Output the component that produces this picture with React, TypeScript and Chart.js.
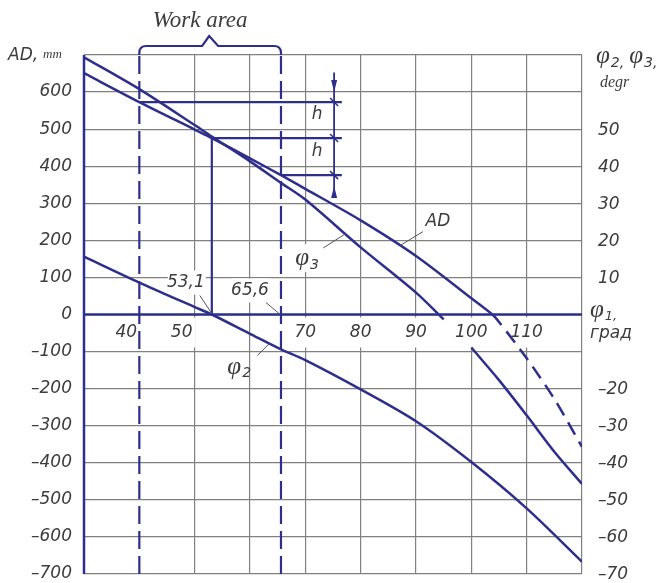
import React, { useEffect, useRef } from "react";
import { Chart, registerables } from "chart.js";

Chart.register(...registerables);

// ---------- data ----------
const phi1Range = [30, 120];
const adRange = [-700, 700];
const degRange = [-70, 70];

const adPhi1 = [30, 40, 50, 53.1, 60, 65.6, 70, 80, 90, 100, 103.8, 105, 110, 115, 120];
const adValues = [651, 573, 499, 476, 421, 376, 339, 254, 158, 44, 0, -20, -118, -228, -357];
const adDashedFrom = 103.8;

const phi3Phi1 = [30, 40, 50, 53.1, 60, 65.6, 70, 80, 90, 95, 97.5, 100, 105, 110, 115, 120];
const phi3Values = [69.4, 60.8, 51.1, 48.0, 41.3, 35.5, 31.0, 18.1, 5.9, -1.3, null, -8.9, -17.7, -27.2, -37.0, -45.7];

const phi2Phi1 = [30, 40, 50, 53.1, 60, 65.6, 70, 80, 90, 100, 110, 120];
const phi2Values = [15.6, 8.6, 2.0, 0, -5.2, -9.4, -12.3, -20.2, -28.8, -39.8, -52.3, -66.7];

const workArea = [40, 65.6];
const crossPhi1 = 53.1;
const hPhi1 = [40, 53.1, 65.6];
const hLevels = [573, 476, 376];
const hLineEnd = 76.6;
const dimPhi1 = 75.2;
const dimRange = [653, 317];

const xTickLabels = [40, 50, 70, 80, 90, 100, 110];
const leftTickLabels = [600, 500, 400, 300, 200, 100, 0, -100, -200, -300, -400, -500, -600, -700];
const rightTickLabels = [50, 40, 30, 20, 10, -20, -30, -40, -50, -60, -70];

const phi2LabelAt = 63.5;
const phi3LabelAt = 77.2;
const adLabelAt = 87.1;

// ---------- styles ----------
const BLUE = "#2e2e8c";
const GRID = "#808080";
const TEXT = "#3c3c3c";
const TICK_FONT = "italic 17px 'DejaVu Sans'";
const SERIF_IT = "'Liberation Serif', 'DejaVu Serif', serif";

const pts = (xs: number[], ys: (number | null)[]) => xs.map((v, i) => ({ x: v, y: ys[i] }));

function interp(xs: number[], ys: (number | null)[], xv: number): number {
  for (let i = 0; i < xs.length - 1; i++) {
    if (xv >= xs[i] && xv <= xs[i + 1]) {
      const a = ys[i], b = ys[i + 1];
      if (a == null || b == null) return (a ?? b) as number;
      return a + ((b - a) * (xv - xs[i])) / (xs[i + 1] - xs[i]);
    }
  }
  return ys[ys.length - 1] as number;
}

const fmt = (v: number) => (v < 0 ? "\u2013" + Math.abs(v) : String(v));
const fmtComma = (v: number) => String(v).replace(".", ",");

function drawPhi(ctx: CanvasRenderingContext2D, sub: string, x: number, y: number, size: number, subSize: number, tail = "") {
  ctx.textAlign = "left";
  ctx.textBaseline = "alphabetic";
  ctx.font = `italic ${size}px ${SERIF_IT}`;
  ctx.fillText("\u03C6", x, y);
  const w = ctx.measureText("\u03C6").width;
  ctx.font = `italic ${subSize}px 'DejaVu Sans'`;
  ctx.fillText(sub + tail, x + w + 1, y + subSize * 0.25);
  return w + 1 + ctx.measureText(sub + tail).width;
}

const overlay = {
  id: "overlay",
  beforeDatasetsDraw(chart: any) {
    const { ctx, chartArea: ca, scales } = chart;
    const x = scales.x, y = scales.y, y1 = scales.y1;
    const y0 = y.getPixelForValue(0);
    ctx.save();
    ctx.fillStyle = "#ffffff";
    ctx.font = TICK_FONT;
    xTickLabels.forEach((v) => {
      const px = x.getPixelForValue(v) + (v < 60 ? -13 : 0);
      const w = ctx.measureText(String(v)).width;
      ctx.fillRect(px - w / 2 - 3, y0 + 3, w + 6, 30);
    });
    const pc = x.getPixelForValue(crossPhi1);
    ctx.fillRect(pc - 44, y0 - 44, 38, 24);
    const pw = x.getPixelForValue(workArea[1]);
    ctx.fillRect(pw - 50, y0 - 36, 40, 24);
    const p3x = x.getPixelForValue(phi3LabelAt), p3y = y1.getPixelForValue(interp(phi3Phi1, phi3Values, phi3LabelAt));
    ctx.fillRect(p3x - 52, p3y + 10, 28, 28);
    ctx.strokeStyle = BLUE;
    ctx.lineWidth = 2.5;
    ctx.beginPath();
    ctx.moveTo(ca.left, ca.top);
    ctx.lineTo(ca.left, ca.bottom);
    ctx.stroke();
    ctx.beginPath();
    ctx.moveTo(ca.left, y0);
    ctx.lineTo(ca.right, y0);
    ctx.stroke();
    ctx.restore();
  },
  afterDraw(chart: any) {
    const { ctx, chartArea: ca, scales } = chart;
    const x = scales.x, y = scales.y, y1 = scales.y1;
    const y0 = y.getPixelForValue(0);
    ctx.save();
    ctx.fillStyle = TEXT;
    ctx.strokeStyle = TEXT;

    ctx.font = TICK_FONT;
    ctx.textBaseline = "middle";
    ctx.textAlign = "right";
    leftTickLabels.forEach((v) => ctx.fillText(fmt(v), ca.left - 12, y.getPixelForValue(v)));
    ctx.textAlign = "left";
    rightTickLabels.forEach((v) => ctx.fillText(fmt(v), ca.right + 16, y1.getPixelForValue(v) + 1));
    ctx.textAlign = "center";
    xTickLabels.forEach((v) => ctx.fillText(String(v), x.getPixelForValue(v) + (v < 60 ? -13 : 0), y0 + 18));

    ctx.textAlign = "left";
    ctx.textBaseline = "alphabetic";
    ctx.font = TICK_FONT;
    ctx.fillText("AD,", 8, ca.top + 5);
    ctx.font = `italic 13px ${SERIF_IT}`;
    ctx.fillText("mm", 43, ca.top + 3);

    let wx = ca.right + 14;
    wx += drawPhi(ctx, "2", wx, ca.top + 8, 25, 14, ",");
    drawPhi(ctx, "3", wx + 5, ca.top + 8, 25, 14, ",");
    ctx.font = `italic 16px ${SERIF_IT}`;
    ctx.fillText("degr", ca.right + 18, ca.top + 32);

    drawPhi(ctx, "1", ca.right + 8, y0 + 2, 25, 13, ",");
    ctx.font = "italic 17px 'DejaVu Sans'";
    ctx.fillText("\u0433\u0440\u0430\u0434", ca.right + 8, y0 + 23);

    const xa = x.getPixelForValue(workArea[0]);
    const xb = x.getPixelForValue(workArea[1]);
    const mid = (xa + xb) / 2;
    ctx.font = `italic 23px ${SERIF_IT}`;
    ctx.textAlign = "center";
    ctx.fillText("Work area", mid - 10, ca.top - 28);
    ctx.strokeStyle = BLUE;
    ctx.lineWidth = 2.2;
    const by = ca.top - 9;
    const r = 7;
    ctx.beginPath();
    ctx.moveTo(xa, ca.top);
    ctx.lineTo(xa, by + r);
    ctx.quadraticCurveTo(xa, by, xa + r, by);
    ctx.lineTo(mid - 8, by);
    ctx.lineTo(mid - 1, by - 10);
    ctx.lineTo(mid + 8, by);
    ctx.lineTo(xb - r, by);
    ctx.quadraticCurveTo(xb, by, xb, by + r);
    ctx.lineTo(xb, ca.top);
    ctx.stroke();

    const dx = x.getPixelForValue(dimPhi1);
    const yTop = y.getPixelForValue(hLevels[0]);
    const yBot = y.getPixelForValue(hLevels[2]);
    ctx.fillStyle = BLUE;
    ctx.beginPath();
    ctx.moveTo(dx, yTop - 10);
    ctx.lineTo(dx - 3, yTop - 22);
    ctx.lineTo(dx + 3, yTop - 22);
    ctx.closePath();
    ctx.fill();
    ctx.beginPath();
    ctx.moveTo(dx, yBot + 11);
    ctx.lineTo(dx - 3, yBot + 23);
    ctx.lineTo(dx + 3, yBot + 23);
    ctx.closePath();
    ctx.fill();
    ctx.lineWidth = 1.5;
    hLevels.forEach((lv) => {
      const py = y.getPixelForValue(lv);
      ctx.beginPath();
      ctx.moveTo(dx - 4, py - 4);
      ctx.lineTo(dx + 4, py + 4);
      ctx.stroke();
    });

    ctx.fillStyle = TEXT;
    ctx.font = TICK_FONT;
    ctx.textAlign = "center";
    ctx.textBaseline = "middle";
    for (let i = 0; i < 2; i++) {
      const ym = (y.getPixelForValue(hLevels[i]) + y.getPixelForValue(hLevels[i + 1])) / 2 - 5;
      ctx.fillText("h", dx - 17, ym);
    }

    ctx.strokeStyle = "#555";
    ctx.lineWidth = 1;
    const leader = (x1: number, yA: number, x2: number, yB: number) => {
      ctx.beginPath();
      ctx.moveTo(x1, yA);
      ctx.lineTo(x2, yB);
      ctx.stroke();
    };
    const pc = x.getPixelForValue(crossPhi1);
    ctx.fillText(fmtComma(crossPhi1), pc - 26, y0 - 32);
    leader(pc - 12, y0 - 19, pc, y0 - 1);
    const pw = x.getPixelForValue(workArea[1]);
    ctx.fillText(fmtComma(workArea[1]), pw - 31, y0 - 24);
    leader(pw - 15, y0 - 12, pw - 2, y0 - 1);

    const p2x = x.getPixelForValue(phi2LabelAt), p2y = y1.getPixelForValue(interp(phi2Phi1, phi2Values, phi2LabelAt));
    leader(p2x - 12, p2y + 12, p2x, p2y);
    ctx.fillStyle = TEXT;
    drawPhi(ctx, "2", p2x - 42, p2y + 30, 25, 14);

    const p3x = x.getPixelForValue(phi3LabelAt), p3y = y1.getPixelForValue(interp(phi3Phi1, phi3Values, phi3LabelAt));
    leader(p3x - 22, p3y + 14, p3x, p3y);
    drawPhi(ctx, "3", p3x - 50, p3y + 31, 25, 14);

    const pax = x.getPixelForValue(adLabelAt), pay = y.getPixelForValue(interp(adPhi1, adValues, adLabelAt));
    leader(pax + 23, pay - 14, pax, pay);
    ctx.font = TICK_FONT;
    ctx.textAlign = "center";
    ctx.textBaseline = "middle";
    ctx.fillText("AD", pax + 38, pay - 24);

    ctx.restore();
  },
};

export default function App() {
  const ref = useRef<HTMLCanvasElement | null>(null);
  useEffect(() => {
    document.body.style.margin = "0";
    if (!ref.current) return;
    const line = (data: any[], extra: any = {}) => ({
      data,
      borderColor: BLUE,
      borderWidth: 2.5,
      pointRadius: 0,
      fill: false,
      tension: 0,
      ...extra,
    });
    const datasets: any[] = [
      line(pts(adPhi1, adValues), {
        label: "AD",
        yAxisID: "y",
        tension: 0.3,
        segment: {
          borderDash: (c: any) => (c.p0.parsed.x >= adDashedFrom - 1e-6 ? [14, 8] : undefined),
        },
      }),
      line(pts(phi3Phi1, phi3Values), { label: "φ3", yAxisID: "y1", tension: 0.3, spanGaps: false }),
      line(pts(phi2Phi1, phi2Values), { label: "φ2", yAxisID: "y1", tension: 0.3 }),
      ...workArea.map((v) =>
        line([{ x: v, y: adRange[0] }, { x: v, y: adRange[1] }], { label: "work", yAxisID: "y", borderDash: [18, 7], borderWidth: 2.2 })
      ),
      line([{ x: crossPhi1, y: 0 }, { x: crossPhi1, y: hLevels[1] }], { label: "v", yAxisID: "y", borderWidth: 2.2 }),
      ...hLevels.map((lv, i) =>
        line([{ x: hPhi1[i], y: lv }, { x: hLineEnd, y: lv }], { label: "h" + i, yAxisID: "y", borderWidth: 2.2 })
      ),
      line([{ x: dimPhi1, y: dimRange[0] }, { x: dimPhi1, y: dimRange[1] }], { label: "dim", yAxisID: "y", borderWidth: 1.8 }),
    ];
    const chart = new Chart(ref.current, {
      type: "line",
      data: { datasets },
      plugins: [overlay],
      options: {
        animation: false,
        responsive: false,
        devicePixelRatio: 1,
        layout: { padding: { left: 84, right: 82, top: 55, bottom: 9 } },
        plugins: { legend: { display: false }, tooltip: { enabled: false } },
        scales: {
          x: {
            type: "linear",
            min: phi1Range[0],
            max: phi1Range[1],
            ticks: { display: false, stepSize: 10 },
            grid: {
              drawTicks: false,
              color: (c: any) => (c.tick && workArea.includes(c.tick.value) ? "rgba(0,0,0,0)" : GRID),
              lineWidth: 1.2,
            },
            border: { display: false },
          },
          y: {
            type: "linear",
            min: adRange[0],
            max: adRange[1],
            ticks: { display: false, stepSize: 100 },
            grid: { drawTicks: false, color: GRID, lineWidth: 1.2 },
            border: { display: false },
          },
          y1: {
            type: "linear",
            position: "right",
            display: false,
            min: degRange[0],
            max: degRange[1],
          },
        },
      },
    });
    return () => chart.destroy();
  }, []);
  return (
    <div style={{ width: 664, height: 583, background: "#fff" }}>
      <canvas ref={ref} width={664} height={583} style={{ display: "block" }} />
    </div>
  );
}
